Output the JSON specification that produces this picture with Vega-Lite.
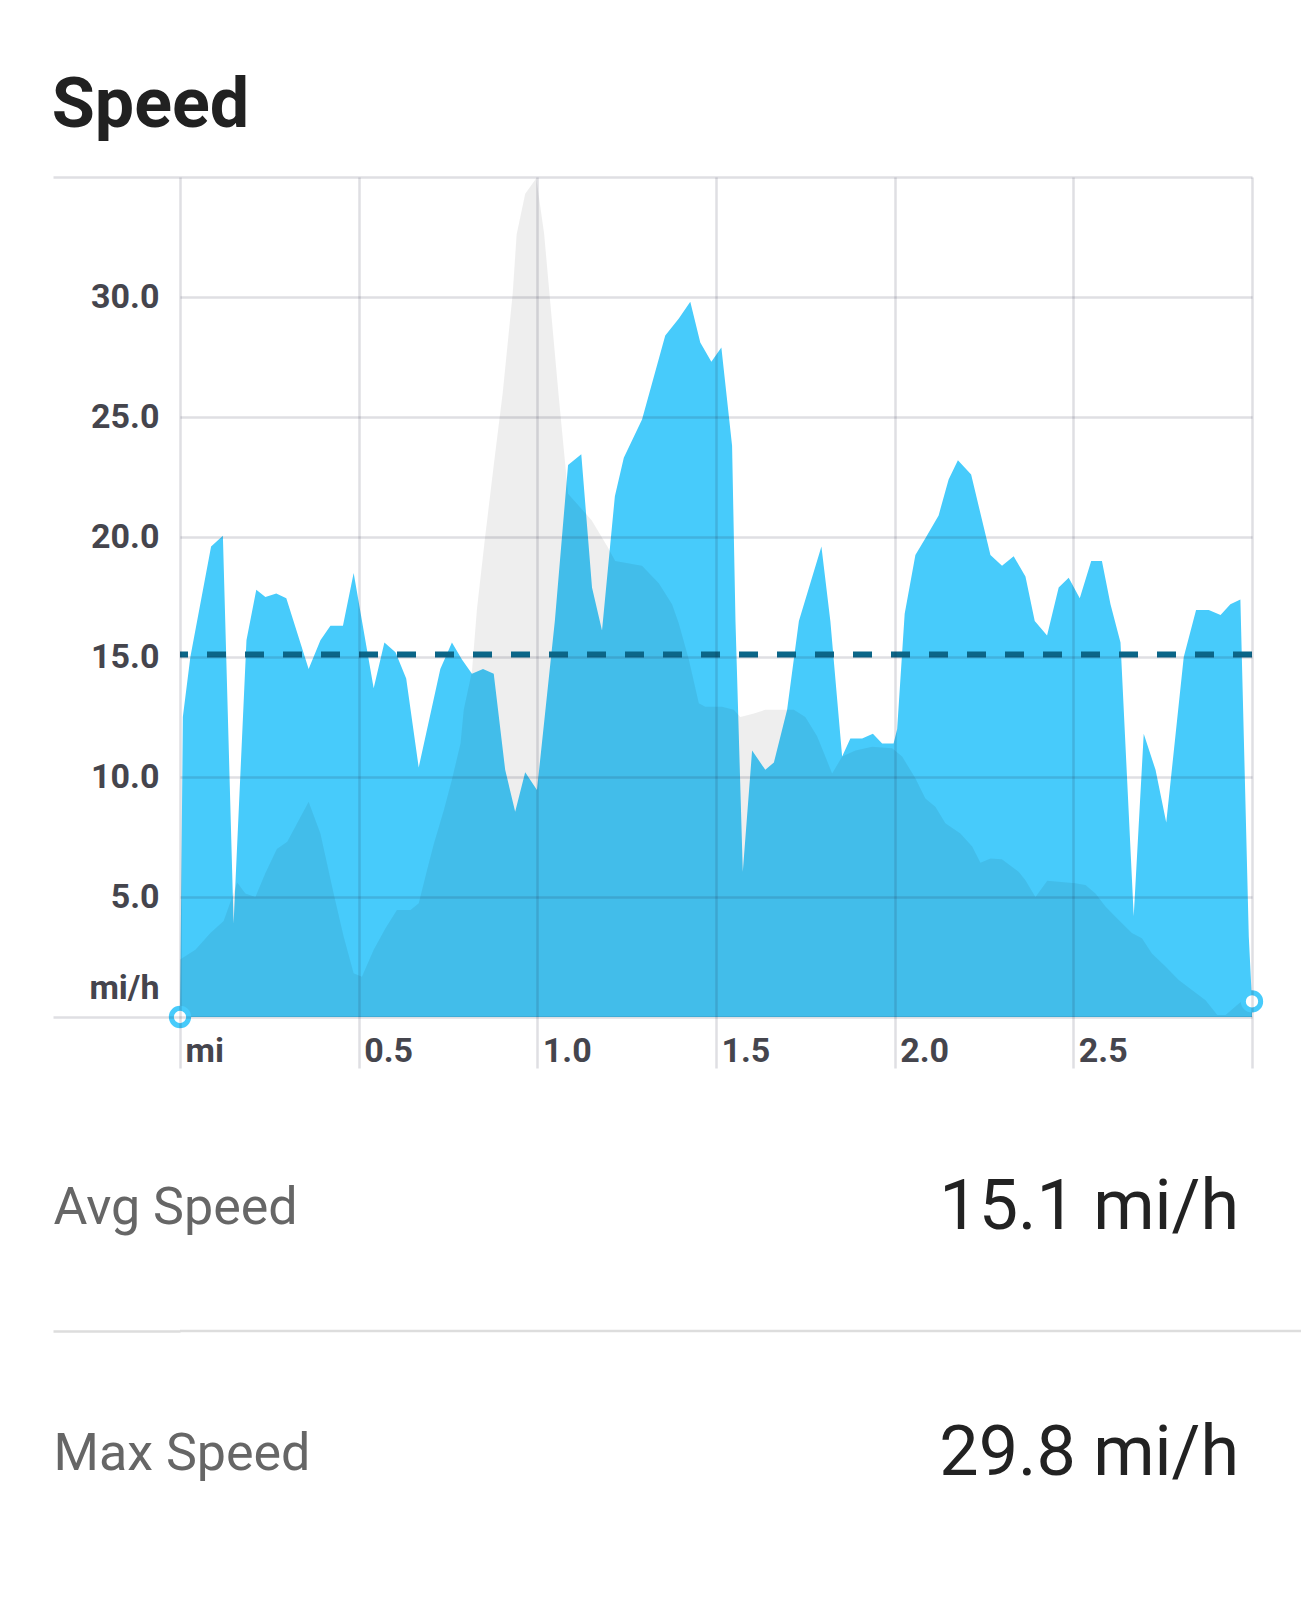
{
  "$schema": "https://vega.github.io/schema/vega-lite/v6.json",
  "background": "white",
  "padding": {"left": 51, "top": 71, "right": 0, "bottom": 0},
  "config": {
    "view": {"stroke": null},
    "font": "Roboto"
  },
  "datasets": {
    "speed": [
      {"d":0,"v":0},{"d":0.008,"v":12.5},{"d":0.029,"v":15.0},{"d":0.087,"v":19.6},{"d":0.12,"v":20.05},{"d":0.15,"v":3.9},{"d":0.186,"v":15.7},{"d":0.2135,"v":17.8},{"d":0.239,"v":17.5},{"d":0.2695,"v":17.65},{"d":0.2975,"v":17.45},{"d":0.36,"v":14.5},{"d":0.393,"v":15.7},{"d":0.421,"v":16.3},{"d":0.456,"v":16.3},{"d":0.486,"v":18.5},{"d":0.542,"v":13.7},{"d":0.572,"v":15.6},{"d":0.603,"v":15.2},{"d":0.633,"v":14.1},{"d":0.668,"v":10.4},{"d":0.7285,"v":14.5},{"d":0.761,"v":15.6},{"d":0.789,"v":14.9},{"d":0.817,"v":14.3},{"d":0.848,"v":14.5},{"d":0.878,"v":14.3},{"d":0.91,"v":10.3},{"d":0.938,"v":8.55},{"d":0.966,"v":10.2},{"d":0.999,"v":9.46},{"d":1.049,"v":16.5},{"d":1.086,"v":23.0},{"d":1.123,"v":23.45},{"d":1.153,"v":17.9},{"d":1.181,"v":16.1},{"d":1.217,"v":21.7},{"d":1.242,"v":23.3},{"d":1.293,"v":24.9},{"d":1.358,"v":28.4},{"d":1.396,"v":29.1},{"d":1.428,"v":29.8},{"d":1.456,"v":28.1},{"d":1.487,"v":27.3},{"d":1.515,"v":27.9},{"d":1.545,"v":23.8},{"d":1.5545,"v":16.5},{"d":1.575,"v":6.05},{"d":1.601,"v":11.1},{"d":1.638,"v":10.3},{"d":1.662,"v":10.6},{"d":1.699,"v":12.8},{"d":1.732,"v":16.5},{"d":1.795,"v":19.6},{"d":1.82,"v":16.5},{"d":1.853,"v":10.85},{"d":1.876,"v":11.6},{"d":1.909,"v":11.6},{"d":1.939,"v":11.8},{"d":1.965,"v":11.4},{"d":1.997,"v":11.4},{"d":2.007,"v":12.0},{"d":2.028,"v":16.8},{"d":2.058,"v":19.25},{"d":2.086,"v":19.95},{"d":2.123,"v":20.9},{"d":2.151,"v":22.4},{"d":2.177,"v":23.2},{"d":2.214,"v":22.6},{"d":2.268,"v":19.25},{"d":2.3005,"v":18.8},{"d":2.333,"v":19.2},{"d":2.366,"v":18.35},{"d":2.392,"v":16.5},{"d":2.4265,"v":15.9},{"d":2.459,"v":17.9},{"d":2.487,"v":18.3},{"d":2.518,"v":17.45},{"d":2.55,"v":19.0},{"d":2.58,"v":19.0},{"d":2.604,"v":17.2},{"d":2.632,"v":15.6},{"d":2.669,"v":4.2},{"d":2.697,"v":11.8},{"d":2.73,"v":10.3},{"d":2.76,"v":8.1},{"d":2.809,"v":15.0},{"d":2.8435,"v":16.96},{"d":2.879,"v":16.96},{"d":2.912,"v":16.75},{"d":2.9395,"v":17.2},{"d":2.9675,"v":17.4},{"d":2.991,"v":3.35},{"d":3.0,"v":0.65}
    ],
    "profile": [
      {"d":0,"v":2.4},{"d":0.043,"v":2.8},{"d":0.085,"v":3.5},{"d":0.122,"v":4.0},{"d":0.146,"v":5.0},{"d":0.16,"v":5.6},{"d":0.183,"v":5.15},{"d":0.211,"v":5.0},{"d":0.239,"v":6.0},{"d":0.271,"v":7.0},{"d":0.3,"v":7.3},{"d":0.36,"v":8.97},{"d":0.393,"v":7.65},{"d":0.43,"v":5.15},{"d":0.458,"v":3.35},{"d":0.486,"v":1.82},{"d":0.509,"v":1.68},{"d":0.542,"v":2.8},{"d":0.575,"v":3.7},{"d":0.607,"v":4.46},{"d":0.645,"v":4.46},{"d":0.668,"v":4.74},{"d":0.691,"v":6.1},{"d":0.71,"v":7.2},{"d":0.738,"v":8.6},{"d":0.761,"v":9.9},{"d":0.785,"v":11.4},{"d":0.794,"v":12.8},{"d":0.817,"v":14.4},{"d":0.831,"v":17.0},{"d":0.853,"v":19.9},{"d":0.878,"v":23.0},{"d":0.903,"v":26.0},{"d":0.931,"v":30.15},{"d":0.942,"v":32.6},{"d":0.966,"v":34.3},{"d":0.997,"v":34.95},{"d":1.019,"v":32.65},{"d":1.034,"v":30.15},{"d":1.06,"v":25.85},{"d":1.086,"v":21.8},{"d":1.152,"v":20.7},{"d":1.196,"v":19.6},{"d":1.218,"v":19.0},{"d":1.293,"v":18.8},{"d":1.34,"v":18.07},{"d":1.377,"v":17.2},{"d":1.396,"v":16.4},{"d":1.424,"v":14.9},{"d":1.452,"v":13.07},{"d":1.47,"v":12.93},{"d":1.517,"v":12.93},{"d":1.55,"v":12.8},{"d":1.568,"v":12.5},{"d":1.606,"v":12.65},{"d":1.638,"v":12.8},{"d":1.68,"v":12.8},{"d":1.718,"v":12.8},{"d":1.75,"v":12.5},{"d":1.783,"v":11.7},{"d":1.806,"v":10.85},{"d":1.825,"v":10.15},{"d":1.853,"v":10.85},{"d":1.89,"v":11.1},{"d":1.937,"v":11.26},{"d":1.993,"v":11.2},{"d":2.021,"v":10.85},{"d":2.058,"v":9.95},{"d":2.086,"v":9.1},{"d":2.114,"v":8.76},{"d":2.142,"v":8.07},{"d":2.184,"v":7.65},{"d":2.217,"v":7.1},{"d":2.24,"v":6.43},{"d":2.268,"v":6.6},{"d":2.3,"v":6.57},{"d":2.347,"v":6.05},{"d":2.366,"v":5.7},{"d":2.394,"v":5.0},{"d":2.427,"v":5.68},{"d":2.459,"v":5.64},{"d":2.506,"v":5.57},{"d":2.534,"v":5.5},{"d":2.562,"v":5.15},{"d":2.59,"v":4.6},{"d":2.627,"v":4.04},{"d":2.664,"v":3.5},{"d":2.692,"v":3.28},{"d":2.72,"v":2.65},{"d":2.758,"v":2.1},{"d":2.795,"v":1.54},{"d":2.832,"v":1.12},{"d":2.87,"v":0.7},{"d":2.903,"v":0.08},{"d":2.926,"v":0.08},{"d":2.964,"v":0.57},{"d":2.991,"v":0.85},{"d":3.0,"v":0.9}
    ],
    "stats": [
      {"label": "Avg Speed", "value": "15.1 mi/h", "num": 15.1},
      {"label": "Max Speed", "value": "29.8 mi/h", "num": 29.8}
    ]
  },
  "columns": 1,
  "spacing": 15,
  "concat": [
    {
      "width": 1072,
      "height": 840,
      "title": {
        "text": "Speed",
        "anchor": "start",
        "frame": "bounds",
        "font": "Roboto",
        "fontSize": 70,
        "fontWeight": "bold",
        "color": "#212121",
        "baseline": "alphabetic",
        "offset": -37
      },
      "layer": [
        {
          "data": {"name": "speed"},
          "mark": {"type": "area", "color": "#47cbfb", "opacity": 1, "interpolate": "linear"},
          "encoding": {
            "x": {
              "field": "d", "type": "quantitative",
              "scale": {"domain": [0, 3], "nice": false, "zero": false},
              "axis": {
                "values": [0, 0.5, 1, 1.5, 2, 2.5, 3],
                "labelExpr": "datum.value == 0 ? 'mi' : datum.value >= 3 ? '' : format(datum.value, '.1f')",
                "title": null,
                "domain": false,
                "grid": true, "gridColor": "#1c1c3c", "gridOpacity": 0.14, "gridWidth": 2.5,
                "ticks": true, "tickSize": 51, "tickColor": "#1c1c3c", "tickOpacity": 0.14, "tickWidth": 2.5,
                "labelPadding": -17,
                "labelAlign": "left", "labelBaseline": "middle", "labelOffset": 5,
                "labelFlush": false, "labelOverlap": false,
                "labelFont": "Roboto", "labelFontSize": 34, "labelFontWeight": "bold", "labelColor": "#45454d",
                "zindex": 1
              }
            },
            "y": {
              "field": "v", "type": "quantitative",
              "scale": {"domain": [0, 35], "nice": false},
              "axis": {
                "values": [0, 5, 10, 15, 20, 25, 30, 35],
                "labelExpr": "datum.value == 0 ? 'mi/h' : datum.value == 35 ? '' : format(datum.value, '.1f')",
                "title": null,
                "domain": false,
                "grid": true, "gridColor": "#1c1c3c", "gridOpacity": 0.14, "gridWidth": 2.5,
                "ticks": true, "tickSize": 127, "tickColor": "#1c1c3c", "tickWidth": 2.5,
                "tickOpacity": {"condition": {"test": "datum.value == 0 || datum.value == 35", "value": 0.14}, "value": 0},
                "labelPadding": -106,
                "labelOffset": {"condition": {"test": "datum.value == 0", "value": -29}, "value": 0},
                "labelFlush": false, "labelOverlap": false,
                "labelFont": "Roboto", "labelFontSize": 34, "labelFontWeight": "bold", "labelColor": "#45454d",
                "zindex": 1
              }
            }
          }
        },
        {
          "data": {"name": "profile"},
          "mark": {"type": "area", "color": "#000000", "opacity": 0.068, "interpolate": "linear"},
          "encoding": {
            "x": {"field": "d", "type": "quantitative"},
            "y": {"field": "v", "type": "quantitative"}
          }
        },
        {
          "data": {"name": "stats"},
          "transform": [{"filter": "datum.label == 'Avg Speed'"}],
          "mark": {"type": "rule", "color": "#0b6688", "strokeWidth": 6, "strokeDash": [19, 19]},
          "encoding": {"y": {"field": "num", "type": "quantitative"}}
        },
        {
          "data": {"name": "speed"},
          "transform": [{"filter": "datum.d == 0 || datum.d == 3"}],
          "mark": {"type": "point", "shape": "circle", "size": 300, "fill": "white", "stroke": "#47cbfb", "strokeWidth": 5, "opacity": 1, "filled": false},
          "encoding": {
            "x": {"field": "d", "type": "quantitative"},
            "y": {"field": "v", "type": "quantitative"}
          }
        }
      ]
    },
    {
      "width": 1059,
      "height": 492,
      "data": {"name": "stats"},
      "layer": [
        {
          "mark": {"type": "text", "align": "right", "baseline": "middle", "font": "Roboto", "fontSize": 70, "color": "#222222"},
          "encoding": {
            "x": {"datum": 1, "type": "quantitative", "scale": {"domain": [0, 1], "nice": false, "zero": false}, "axis": null},
            "y": {
              "field": "label", "type": "nominal",
              "scale": {"domain": ["Avg Speed", "Max Speed"], "paddingInner": 0, "paddingOuter": 0},
              "axis": {
                "orient": "left",
                "title": null,
                "domain": false,
                "grid": false,
                "ticks": true, "tickSize": 127, "tickWidth": 2.5, "tickColor": "#dddddd",
                "bandPosition": 1,
                "tickOpacity": {"condition": {"test": "datum.value == 'Avg Speed'", "value": 1}, "value": 0},
                "labelPadding": 0,
                "labelAlign": "left",
                "labelBaseline": "middle",
                "labelLimit": 800,
                "labelFont": "Roboto", "labelFontSize": 52, "labelFontWeight": "normal", "labelColor": "#666666"
              }
            },
            "text": {"field": "value"}
          }
        },
        {
          "transform": [{"filter": "datum.label == 'Avg Speed'"}],
          "mark": {"type": "rule", "color": "#dddddd", "strokeWidth": 2.5},
          "encoding": {
            "x": {"datum": 0, "type": "quantitative"},
            "x2": {"datum": 1.0604},
            "y": {"field": "label", "type": "nominal", "bandPosition": 1}
          }
        }
      ]
    }
  ]
}
